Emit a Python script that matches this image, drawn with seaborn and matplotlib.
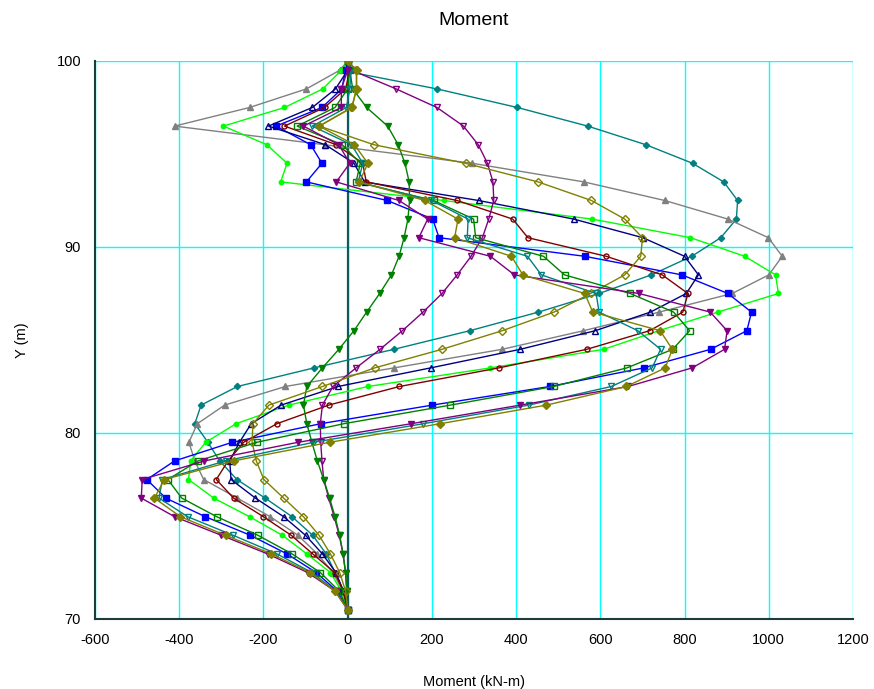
import matplotlib
matplotlib.use("Agg")
import matplotlib.pyplot as plt
import seaborn as sns
import pandas as pd

# depth levels (m)
Y = [100, 99.5, 98.5, 97.5, 96.5, 95.5, 94.5, 93.5, 92.5, 91.5, 90.5, 89.5, 88.5, 87.5, 86.5,
     85.5, 84.5, 83.5, 82.5, 81.5, 80.5, 79.5, 78.5, 77.5, 76.5, 75.5, 74.5, 73.5, 72.5, 71.5, 70.5]

# moment series (kN-m)
teal_diamond = [0, -15, 212, 403, 570, 708, 819, 893, 926, 923, 886, 817, 721, 597, 453,
                290, 110, -80, -262, -348, -363, -332, -304, -263, -196, -132, -83, -51, -30, -10, 0]
gray_tri = [0, -19, -98, -233, -411, -55, 296, 561, 753, 903, 999, 1032, 1000, 913, 740,
            560, 367, 110, -148, -292, -357, -377, -363, -342, -262, -184, -118, -72, -35, -12, 0]
lime_circle = [0, -15, -59, -150, -295, -192, -144, -159, 228, 581, 814, 943, 1016, 1023, 879,
               739, 608, 339, 48, -140, -265, -337, -373, -378, -318, -233, -155, -97, -41, -15, 0]
blue_square = [0, -5, -14, -61, -170, -88, -61, -98, 94, 202, 217, 563, 794, 903, 959,
               948, 862, 703, 480, 201, -64, -274, -411, -477, -432, -338, -231, -144, -75, -25, 0]
navy_open_tri = [0, 0, -29, -84, -188, -53, 15, 40, 311, 537, 701, 800, 833, 804, 719,
                 588, 410, 197, -23, -158, -229, -257, -280, -277, -219, -152, -100, -60, -28, -10, 0]
darkred_open_circle = [0, 5, -5, -55, -150, -27, 36, 44, 260, 392, 428, 614, 747, 808, 796,
                       717, 568, 359, 123, -45, -168, -247, -284, -312, -271, -200, -134, -83, -31, -10, 0]
purple_open_vtri = [0, 10, 115, 212, 275, 310, 332, 345, 347, 335, 320, 293, 260, 224, 179,
                    130, 77, 20, -35, -60, -65, -64, -61, -57, -45, -32, -20, -11, -5, -2, 0]
green_filled_vtri = [0, 5, 12, 45, 95, 120, 136, 146, 147, 143, 134, 122, 104, 76, 45,
                     15, -21, -60, -97, -105, -97, -85, -72, -57, -43, -30, -19, -11, -5, -2, 0]
olive_open_diamond = [0, 20, 22, 9, -67, 62, 280, 452, 579, 658, 700, 696, 658, 577, 490,
                      367, 224, 64, -60, -187, -225, -227, -217, -199, -152, -105, -68, -41, -19, -5, 0]
green_open_square = [0, 5, 0, -30, -120, -13, 30, 20, 204, 299, 304, 465, 515, 671, 774,
                     812, 772, 663, 489, 244, -9, -216, -355, -427, -394, -311, -213, -132, -65, -20, 0]
teal_open_vtri = [0, 8, 5, -3, -84, 9, 36, 25, 199, 286, 284, 427, 460, 590, 597,
                  689, 743, 723, 626, 430, 180, -81, -290, -440, -448, -380, -272, -168, -85, -28, 0]
purple_filled_vtri = [0, 0, -15, -15, -105, -21, 5, -27, 122, 190, 169, 339, 396, 692, 861,
                      901, 895, 818, 666, 410, 151, -118, -340, -488, -490, -411, -300, -190, -95, -30, 0]
olive_filled_diamond = [0, 22, 20, 11, -68, 16, 48, 28, 183, 262, 254, 389, 416, 563, 582,
                        742, 771, 754, 662, 472, 220, -43, -271, -435, -459, -397, -290, -181, -90, -30, 0]

X_TICKS = [-600, -400, -200, 0, 200, 400, 600, 800, 1000, 1200]
Y_TICKS = [70, 80, 90, 100]

series = [
    ("teal_diamond", teal_diamond, "#008080", "D", True, 3.2),
    ("gray_tri", gray_tri, "#808080", "^", True, 4.2),
    ("lime_circle", lime_circle, "#00FF00", "o", True, 3.2),
    ("blue_square", blue_square, "#0000FF", "s", True, 4.3),
    ("navy_open_tri", navy_open_tri, "#000080", "^", False, 4.6),
    ("darkred_open_circle", darkred_open_circle, "#800000", "o", False, 3.6),
    ("purple_open_vtri", purple_open_vtri, "#800080", "v", False, 4.6),
    ("green_filled_vtri", green_filled_vtri, "#008000", "v", True, 4.6),
    ("olive_open_diamond", olive_open_diamond, "#808000", "D", False, 3.6),
    ("green_open_square", green_open_square, "#008000", "s", False, 4.5),
    ("teal_open_vtri", teal_open_vtri, "#008080", "v", False, 4.6),
    ("purple_filled_vtri", purple_filled_vtri, "#800080", "v", True, 4.6),
    ("olive_filled_diamond", olive_filled_diamond, "#808000", "D", True, 3.8),
]

sns.set_style("white")
plt.rcParams["font.family"] = ["Liberation Sans", "DejaVu Sans"]
plt.rcParams["axes.unicode_minus"] = False
plt.rcParams["text.color"] = "black"
plt.rcParams["xtick.color"] = "black"
plt.rcParams["ytick.color"] = "black"
plt.rcParams["axes.labelcolor"] = "black"

fig = plt.figure(figsize=(8.74, 6.89), dpi=100)
ax = fig.add_axes([95 / 874, 1 - 619 / 689, 758 / 874, 558 / 689])

for name, vals, col, mk, filled, ms in series:
    df = pd.DataFrame({"Moment": vals, "Y": Y})
    sns.lineplot(data=df, x="Moment", y="Y", sort=False, estimator=None, ax=ax,
                 color=col, marker=mk, markersize=ms, linewidth=1.0,
                 markerfacecolor=col if filled else "none", markeredgecolor=col,
                 markeredgewidth=1.0, legend=False)

ax.axvline(0, color="#0b5c5c", lw=1.6, zorder=1.5)

ax.set_xlim(-600, 1200)
ax.set_ylim(70, 100)
ax.set_xticks(X_TICKS)
ax.set_yticks(Y_TICKS)
ax.grid(True, color="#00FFFF", lw=1.0)
ax.set_axisbelow(True)
for s in ["top", "right"]:
    ax.spines[s].set_visible(False)
for s in ["left", "bottom"]:
    ax.spines[s].set_color("#1c3c3c")
    ax.spines[s].set_linewidth(1.5)
ax.tick_params(axis="both", direction="inout", length=8, width=1.0, color="#111111",
               labelsize=10.5, pad=6)

ax.set_title("Moment", fontsize=14, pad=26)
ax.set_xlabel("Moment (kN-m)", fontsize=10.5, labelpad=20)
ax.set_ylabel("Y (m)", fontsize=10.5, labelpad=20)

fig.savefig("out.png", dpi=100)
